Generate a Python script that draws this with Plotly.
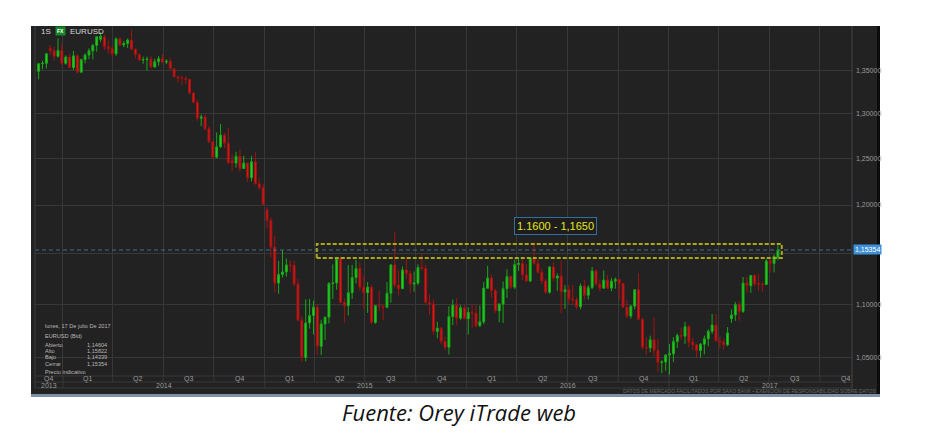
import math
import pandas as pd
import plotly.graph_objects as go

# ---------------- data: weekly EURUSD candles (week start Mondays) ----------------
first_week = "2013-11-18"

open_ = [
    # 2013
    1.3495, 1.3585, 1.3590, 1.3770, 1.3740, 1.3675, 1.3745,
    # 2014
    1.3590, 1.3665, 1.3540, 1.3680, 1.3485, 1.3635, 1.3690, 1.3740, 1.3805, 1.3880, 1.3910, 1.3790, 1.3765,
    1.3705, 1.3885, 1.3810, 1.3830, 1.3870, 1.3760, 1.3695, 1.3630, 1.3635, 1.3640, 1.3545, 1.3610, 1.3645,
    1.3605, 1.3615, 1.3525, 1.3430, 1.3415, 1.3410, 1.3400, 1.3240, 1.3130, 1.2950, 1.2965, 1.2830, 1.2685,
    1.2515, 1.2630, 1.2760, 1.2670, 1.2475, 1.2450, 1.2525, 1.2390, 1.2450, 1.2290, 1.2465, 1.2225, 1.2185,
    # 2015
    1.1950, 1.1840, 1.1565, 1.1205, 1.1290, 1.1315, 1.1385, 1.1380, 1.1195, 1.0845, 1.0495, 1.0820, 1.0890,
    1.0970, 1.0600, 1.0810, 1.0875, 1.1200, 1.1205, 1.1450, 1.1015, 1.0985, 1.1110, 1.1260, 1.1350, 1.1165,
    1.1110, 1.1165, 1.0825, 1.0985, 1.0980, 1.0970, 1.1105, 1.1385, 1.1185, 1.1150, 1.1335, 1.1300, 1.1195,
    1.1205, 1.1360, 1.1350, 1.1015, 1.1000, 1.0740, 1.0770, 1.0645, 1.0590, 1.0880, 1.0990, 1.0865, 1.0965,
    # 2016
    1.0860, 1.0920, 1.0915, 1.0795, 1.0830, 1.1155, 1.1255, 1.1130, 1.0935, 1.1000, 1.1150, 1.1270, 1.1165,
    1.1390, 1.1400, 1.1285, 1.1225, 1.1455, 1.1400, 1.1310, 1.1225, 1.1115, 1.1365, 1.1255, 1.1275, 1.1120,
    1.1140, 1.1050, 1.1040, 1.0975, 1.1175, 1.1085, 1.1160, 1.1325, 1.1195, 1.1155, 1.1235, 1.1155, 1.1225,
    1.1240, 1.1200, 1.0970, 1.0885, 1.0980, 1.1140, 1.0855, 1.0590, 1.0585, 1.0660, 1.0560, 1.0450, 1.0455,
    # 2017
    1.0520, 1.0530, 1.0645, 1.0700, 1.0695, 1.0785, 1.0640, 1.0615, 1.0560, 1.0620, 1.0670, 1.0740, 1.0800,
    1.0650, 1.0640, 1.0615, 1.0860, 1.0895, 1.0995, 1.0930, 1.1205, 1.1180, 1.1280, 1.1200, 1.1195, 1.1190,
    1.1425, 1.1400, 1.14604,
]
high = [
    # 2013
    1.3590, 1.3620, 1.3710, 1.3810, 1.3790, 1.3893, 1.3835,
    # 2014
    1.3685, 1.3700, 1.3740, 1.3700, 1.3645, 1.3710, 1.3770, 1.3825, 1.3915, 1.3967, 1.3935, 1.3875, 1.3810,
    1.3905, 1.3905, 1.3860, 1.3890, 1.3993, 1.3770, 1.3710, 1.3670, 1.3670, 1.3675, 1.3645, 1.3680, 1.3700,
    1.3640, 1.3655, 1.3530, 1.3445, 1.3445, 1.3435, 1.3400, 1.3245, 1.3165, 1.2995, 1.2995, 1.2860, 1.2690,
    1.2790, 1.2885, 1.2785, 1.2840, 1.2555, 1.2575, 1.2600, 1.2530, 1.2455, 1.2530, 1.2570, 1.2285, 1.2225,
    # 2015
    1.1975, 1.1870, 1.1680, 1.1425, 1.1535, 1.1450, 1.1430, 1.1425, 1.1245, 1.0885, 1.1045, 1.1050, 1.1035,
    1.1000, 1.0850, 1.0850, 1.1215, 1.1390, 1.1465, 1.1465, 1.1055, 1.1385, 1.1385, 1.1435, 1.1410, 1.1280,
    1.1215, 1.1185, 1.0990, 1.1130, 1.0990, 1.1215, 1.1395, 1.1714, 1.1330, 1.1370, 1.1460, 1.1330, 1.1320,
    1.1390, 1.1495, 1.1385, 1.1095, 1.1045, 1.0830, 1.0780, 1.0690, 1.0980, 1.1045, 1.1060, 1.0990, 1.0990,
    # 2016
    1.0970, 1.0990, 1.0990, 1.0985, 1.1215, 1.1376, 1.1290, 1.1150, 1.1010, 1.1220, 1.1340, 1.1280, 1.1440,
    1.1455, 1.1465, 1.1395, 1.1465, 1.1616, 1.1445, 1.1350, 1.1245, 1.1375, 1.1415, 1.1300, 1.1428, 1.1185,
    1.1185, 1.1185, 1.1070, 1.1200, 1.1235, 1.1185, 1.1366, 1.1340, 1.1240, 1.1330, 1.1285, 1.1255, 1.1260,
    1.1250, 1.1205, 1.1040, 1.0990, 1.1145, 1.1300, 1.0870, 1.0685, 1.0700, 1.0874, 1.0670, 1.0470, 1.0500,
    # 2017
    1.0620, 1.0685, 1.0720, 1.0775, 1.0830, 1.0800, 1.0680, 1.0625, 1.0630, 1.0700, 1.0760, 1.0905, 1.0905,
    1.0690, 1.0670, 1.0780, 1.0950, 1.1020, 1.1025, 1.1265, 1.1265, 1.1285, 1.1295, 1.1295, 1.1215, 1.1445,
    1.1445, 1.1490, 1.15822,
]
low = [
    # 2013
    1.3400, 1.3520, 1.3530, 1.3690, 1.3625, 1.3660, 1.3570,
    # 2014
    1.3575, 1.3530, 1.3510, 1.3475, 1.3475, 1.3590, 1.3640, 1.3640, 1.3730, 1.3850, 1.3750, 1.3705, 1.3670,
    1.3680, 1.3805, 1.3785, 1.3775, 1.3755, 1.3650, 1.3615, 1.3585, 1.3503, 1.3530, 1.3545, 1.3560, 1.3590,
    1.3580, 1.3520, 1.3425, 1.3365, 1.3335, 1.3345, 1.3225, 1.3130, 1.2920, 1.2860, 1.2815, 1.2670, 1.2500,
    1.2500, 1.2615, 1.2615, 1.2440, 1.2360, 1.2400, 1.2355, 1.2390, 1.2245, 1.2250, 1.2220, 1.2160, 1.2005,
    # 2015
    1.1755, 1.1460, 1.1115, 1.1100, 1.1260, 1.1270, 1.1315, 1.1175, 1.0840, 1.0460, 1.0460, 1.0765, 1.0710,
    1.0520, 1.0520, 1.0660, 1.0815, 1.1050, 1.1140, 1.1010, 1.0820, 1.0890, 1.1050, 1.1200, 1.1130, 1.0955,
    1.0915, 1.0810, 1.0810, 1.0930, 1.0845, 1.0960, 1.1015, 1.1160, 1.1085, 1.1150, 1.1245, 1.1105, 1.1120,
    1.1185, 1.1330, 1.1005, 1.0895, 1.0705, 1.0675, 1.0620, 1.0565, 1.0524, 1.0800, 1.0800, 1.0850, 1.0860,
    # 2016
    1.0710, 1.0775, 1.0775, 1.0780, 1.0810, 1.1150, 1.1065, 1.0915, 1.0825, 1.0820, 1.1060, 1.1145, 1.1145,
    1.1325, 1.1235, 1.1215, 1.1215, 1.1385, 1.1310, 1.1195, 1.1100, 1.1100, 1.1225, 1.1130, 1.0912, 1.0955,
    1.1000, 1.1000, 1.0950, 1.0950, 1.1045, 1.1045, 1.1145, 1.1180, 1.1125, 1.1150, 1.1155, 1.1125, 1.1150,
    1.1045, 1.0965, 1.0860, 1.0860, 1.0950, 1.0850, 1.0570, 1.0520, 1.0545, 1.0505, 1.0365, 1.0352, 1.0375,
    # 2017
    1.0340, 1.0455, 1.0585, 1.0660, 1.0620, 1.0590, 1.0565, 1.0495, 1.0495, 1.0525, 1.0600, 1.0715, 1.0650,
    1.0580, 1.0570, 1.0600, 1.0820, 1.0840, 1.0840, 1.0915, 1.1110, 1.1110, 1.1170, 1.1130, 1.1120, 1.1190,
    1.1310, 1.1310, 1.14339,
]
close = [
    # 2013
    1.3585, 1.3590, 1.3705, 1.3740, 1.3675, 1.3745, 1.3590,
    # 2014
    1.3665, 1.3540, 1.3680, 1.3485, 1.3635, 1.3690, 1.3740, 1.3805, 1.3910, 1.3915, 1.3790, 1.3765, 1.3705,
    1.3885, 1.3810, 1.3830, 1.3870, 1.3760, 1.3695, 1.3630, 1.3635, 1.3640, 1.3545, 1.3610, 1.3645, 1.3605,
    1.3615, 1.3525, 1.3430, 1.3415, 1.3410, 1.3400, 1.3240, 1.3130, 1.2950, 1.2965, 1.2830, 1.2685, 1.2515,
    1.2630, 1.2760, 1.2670, 1.2455, 1.2450, 1.2525, 1.2390, 1.2450, 1.2290, 1.2465, 1.2225, 1.2185, 1.2005,
    # 2015
    1.1840, 1.1565, 1.1205, 1.1290, 1.1315, 1.1385, 1.1380, 1.1195, 1.0845, 1.0495, 1.0820, 1.0890, 1.0970,
    1.0600, 1.0810, 1.0875, 1.1200, 1.1205, 1.1450, 1.1015, 1.0985, 1.1110, 1.1260, 1.1350, 1.1165, 1.1110,
    1.1165, 1.0825, 1.0985, 1.0980, 1.0970, 1.1105, 1.1385, 1.1185, 1.1150, 1.1335, 1.1300, 1.1195, 1.1205,
    1.1360, 1.1350, 1.1015, 1.1000, 1.0740, 1.0770, 1.0645, 1.0590, 1.0880, 1.0990, 1.0865, 1.0965, 1.0860,
    # 2016
    1.0920, 1.0915, 1.0795, 1.0830, 1.1155, 1.1255, 1.1130, 1.0935, 1.1000, 1.1150, 1.1270, 1.1165, 1.1390,
    1.1400, 1.1285, 1.1225, 1.1455, 1.1400, 1.1310, 1.1225, 1.1115, 1.1365, 1.1255, 1.1275, 1.1120, 1.1140,
    1.1050, 1.1040, 1.0975, 1.1175, 1.1085, 1.1160, 1.1325, 1.1195, 1.1155, 1.1235, 1.1155, 1.1225, 1.1240,
    1.1200, 1.0970, 1.0885, 1.0980, 1.1140, 1.0855, 1.0590, 1.0585, 1.0660, 1.0560, 1.0450, 1.0455, 1.0520,
    # 2017
    1.0530, 1.0645, 1.0700, 1.0695, 1.0785, 1.0640, 1.0615, 1.0560, 1.0620, 1.0670, 1.0740, 1.0800, 1.0650,
    1.0640, 1.0615, 1.0725, 1.0895, 1.0995, 1.0930, 1.1205, 1.1180, 1.1280, 1.1195, 1.1195, 1.1190, 1.1425,
    1.1400, 1.1470, 1.15354,
]
weeks = pd.date_range(first_week, periods=len(close), freq="7D")

last_price = 1.15354
last_price_text = "1,15354"

# resistance zone drawn on the chart
zone_start, zone_end = "2015-04-05", "2017-07-24"
zone_low, zone_high = 1.1455, 1.1596
zone_label = "1.1600 - 1,1650"

# axis labels (the 1,15000 label is hidden behind the last-price tag)
y_ticks = [1.05, 1.10, 1.15, 1.20, 1.25, 1.30, 1.35]
y_ticktext = ["1,05000", "1,10000", "", "1,20000", "1,25000", "1,30000", "1,35000"]
quarter_starts = pd.date_range("2013-10-01", "2017-10-01", freq="QS")
quarter_names = ["Q1", "Q2", "Q3", "Q4"]
years = [2013, 2014, 2015, 2016, 2017]

info_date = "lunes, 17 De julio De 2017"
info_title = "EURUSD (Bid)"
info_labels = ["Abierto", "Alto", "Bajo", "Cerrar"]
info_values = ["1,14604", "1,15822", "1,14339", "1,15354"]
info_footer = "Precio indicativo"
source_text = "Fuente: Orey iTrade web"
disclaimer = "DATOS DE MERCADO FACILITADOS POR SAXO BANK • EXENCIÓN DE RESPONSABILIDAD SOBRE DATOS"

# ---------------- layout geometry (pixels) ----------------
W, H = 930, 437
PL, PR, PT, PB = 35, 852, 26, 376          # plot area
x_min = pd.Timestamp("2013-11-11 10:00")
x_max = pd.Timestamp("2017-11-28")
y_lo, y_hi = 1.0327, 1.4043
pw, ph = PR - PL, PB - PT


def px_x(p):
    return (p - PL) / pw


def px_y(p):
    return (PB - p) / ph


FONT = "Liberation Sans"
LBL = "#9a9a9a"

fig = go.Figure()

fig.add_trace(go.Candlestick(
    x=weeks, open=open_, high=high, low=low, close=close,
    increasing=dict(line=dict(color="#18a818", width=1), fillcolor="#22d622"),
    decreasing=dict(line=dict(color="#a51212", width=1), fillcolor="#d81c1c"),
    whiskerwidth=0, hoverinfo="skip", showlegend=False,
))

# last price dashed line
fig.add_trace(go.Scatter(
    x=[x_min, x_max], y=[last_price, last_price], mode="lines",
    line=dict(color="#3a6f98", width=1, dash="4px,3px"),
    hoverinfo="skip", showlegend=False,
))
# resistance zone rectangle
fig.add_trace(go.Scatter(
    x=[zone_start, zone_end, zone_end, zone_start, zone_start],
    y=[zone_low, zone_low, zone_high, zone_high, zone_low], mode="lines",
    line=dict(color="#a9a91c", width=2, dash="4px,2px"),
    hoverinfo="skip", showlegend=False,
))

shapes = []
# dark panel
shapes.append(dict(type="rect", xref="paper", yref="paper", layer="below",
                   x0=px_x(31), x1=px_x(880), y0=px_y(394), y1=1.0,
                   fillcolor="#222222", line=dict(width=0)))
# right black border
shapes.append(dict(type="rect", xref="paper", yref="paper", layer="below",
                   x0=px_x(877), x1=px_x(880), y0=px_y(394), y1=1.0,
                   fillcolor="#0c0c0c", line=dict(width=0)))
# footer strip
shapes.append(dict(type="rect", xref="paper", yref="paper", layer="below",
                   x0=px_x(31), x1=px_x(880), y0=px_y(397), y1=px_y(394),
                   fillcolor="#7f90a6", line=dict(width=0)))
# plot borders
grid_c = "#383838"
shapes.append(dict(type="line", xref="paper", yref="paper", x0=0, x1=0, y0=px_y(388), y1=1,
                   line=dict(color="#3c3c3c", width=1)))
shapes.append(dict(type="line", xref="paper", yref="paper", x0=1, x1=1, y0=px_y(388), y1=1,
                   line=dict(color="#444444", width=1)))
# axis label rows
for yy in (376, 382, 388):
    shapes.append(dict(type="line", xref="paper", yref="paper", x0=0, x1=1,
                       y0=px_y(yy), y1=px_y(yy), line=dict(color=grid_c, width=1)))
for q in quarter_starts:
    if q <= x_min:
        continue
    bottom = 388 if q.month == 1 else 382
    shapes.append(dict(type="line", xref="x", yref="paper", x0=q, x1=q,
                       y0=px_y(bottom), y1=0, line=dict(color=grid_c, width=1)))

annotations = []


def note(x, y, text, font, xanchor="left", xref="paper", yref="paper", **kw):
    d = dict(xref=xref, yref=yref, x=x, y=y, text=text, showarrow=False,
             xanchor=xanchor, yanchor="middle", font=font)
    d.update(kw)
    annotations.append(d)


axis_font = dict(size=7, color=LBL, family=FONT)
# quarter labels
for q in quarter_starts:
    q_end = q + pd.offsets.QuarterBegin(startingMonth=1)
    a = max(q, x_min)
    note(a + (q_end - a) / 2, px_y(379.2), quarter_names[(q.month - 1) // 3], axis_font,
         xanchor="center", xref="x", borderpad=0)
for yr in years:
    a = max(pd.Timestamp(f"{yr}-01-01"), x_min)
    b = pd.Timestamp(f"{yr}-12-31")
    note(a + (b - a) / 2, px_y(385.3), str(yr), axis_font, xanchor="center", xref="x", borderpad=0)
note(px_x(877), px_y(391.3), disclaimer, dict(size=5, color="#666666", family=FONT),
     xanchor="right", borderpad=0)

# header
hdr_font = dict(size=8, color="#d8d8d8", family=FONT)
note(px_x(39), px_y(31.5), "1S", hdr_font)
note(px_x(60.5), px_y(31.5), "<b>FX</b>", dict(size=5, color="#ffffff", family=FONT),
     xanchor="center", bgcolor="#17852a", borderpad=1)
note(px_x(67.5), px_y(31.5), "EURUSD", hdr_font)

# info box
info_font = dict(size=5.6, color="#b8b8b8", family=FONT)
note(px_x(44), px_y(325.5), info_date, info_font, borderpad=0)
note(px_x(44), px_y(335.5), info_title, info_font, borderpad=0)
for i, (lab, val) in enumerate(zip(info_labels, info_values)):
    yy = 344.8 + i * 6.3
    note(px_x(44), px_y(yy), lab, info_font, borderpad=0)
    note(px_x(86), px_y(yy), val, info_font, borderpad=0)
note(px_x(44), px_y(371.5), info_footer, info_font, borderpad=0)

# last price tag
note(px_x(853), math.log10(last_price), last_price_text,
     dict(size=7, color="#ffffff", family=FONT), yref="y", bgcolor="#3d8fd8", borderpad=1)
# zone label
note(px_x(555.5), px_y(225.5), zone_label, dict(size=11, color="#e6e61c", family=FONT),
     xanchor="center", bgcolor="#1d1d1d", bordercolor="#346e9e", borderwidth=1, borderpad=2)
# source caption
note(px_x(458.5), px_y(412), source_text,
     dict(size=22, color="#111111", family="Open Sans", style="italic"), xanchor="center")

fig.update_layout(
    width=W, height=H,
    margin=dict(l=PL, r=W - PR, t=PT, b=H - PB, pad=0),
    paper_bgcolor="#ffffff", plot_bgcolor="#222222",
    showlegend=False, hovermode=False,
    shapes=shapes, annotations=annotations,
    xaxis=dict(type="date", range=[x_min, x_max], rangeslider=dict(visible=False),
               tick0="2014-01-01", dtick="M3", showticklabels=False, ticks="",
               showgrid=True, gridcolor=grid_c, gridwidth=1, zeroline=False, showline=False),
    yaxis=dict(type="log", range=[math.log10(y_lo), math.log10(y_hi)], side="right",
               tickvals=y_ticks, ticktext=y_ticktext, ticks="", ticklabelstandoff=3,
               tickfont=dict(size=7, color=LBL, family=FONT),
               showgrid=True, gridcolor=grid_c, gridwidth=1, zeroline=False, showline=False),
)

fig.write_html("out.html", config={"displayModeBar": False},
               post_script="document.body.style.margin='0';document.body.style.overflow='hidden';")
